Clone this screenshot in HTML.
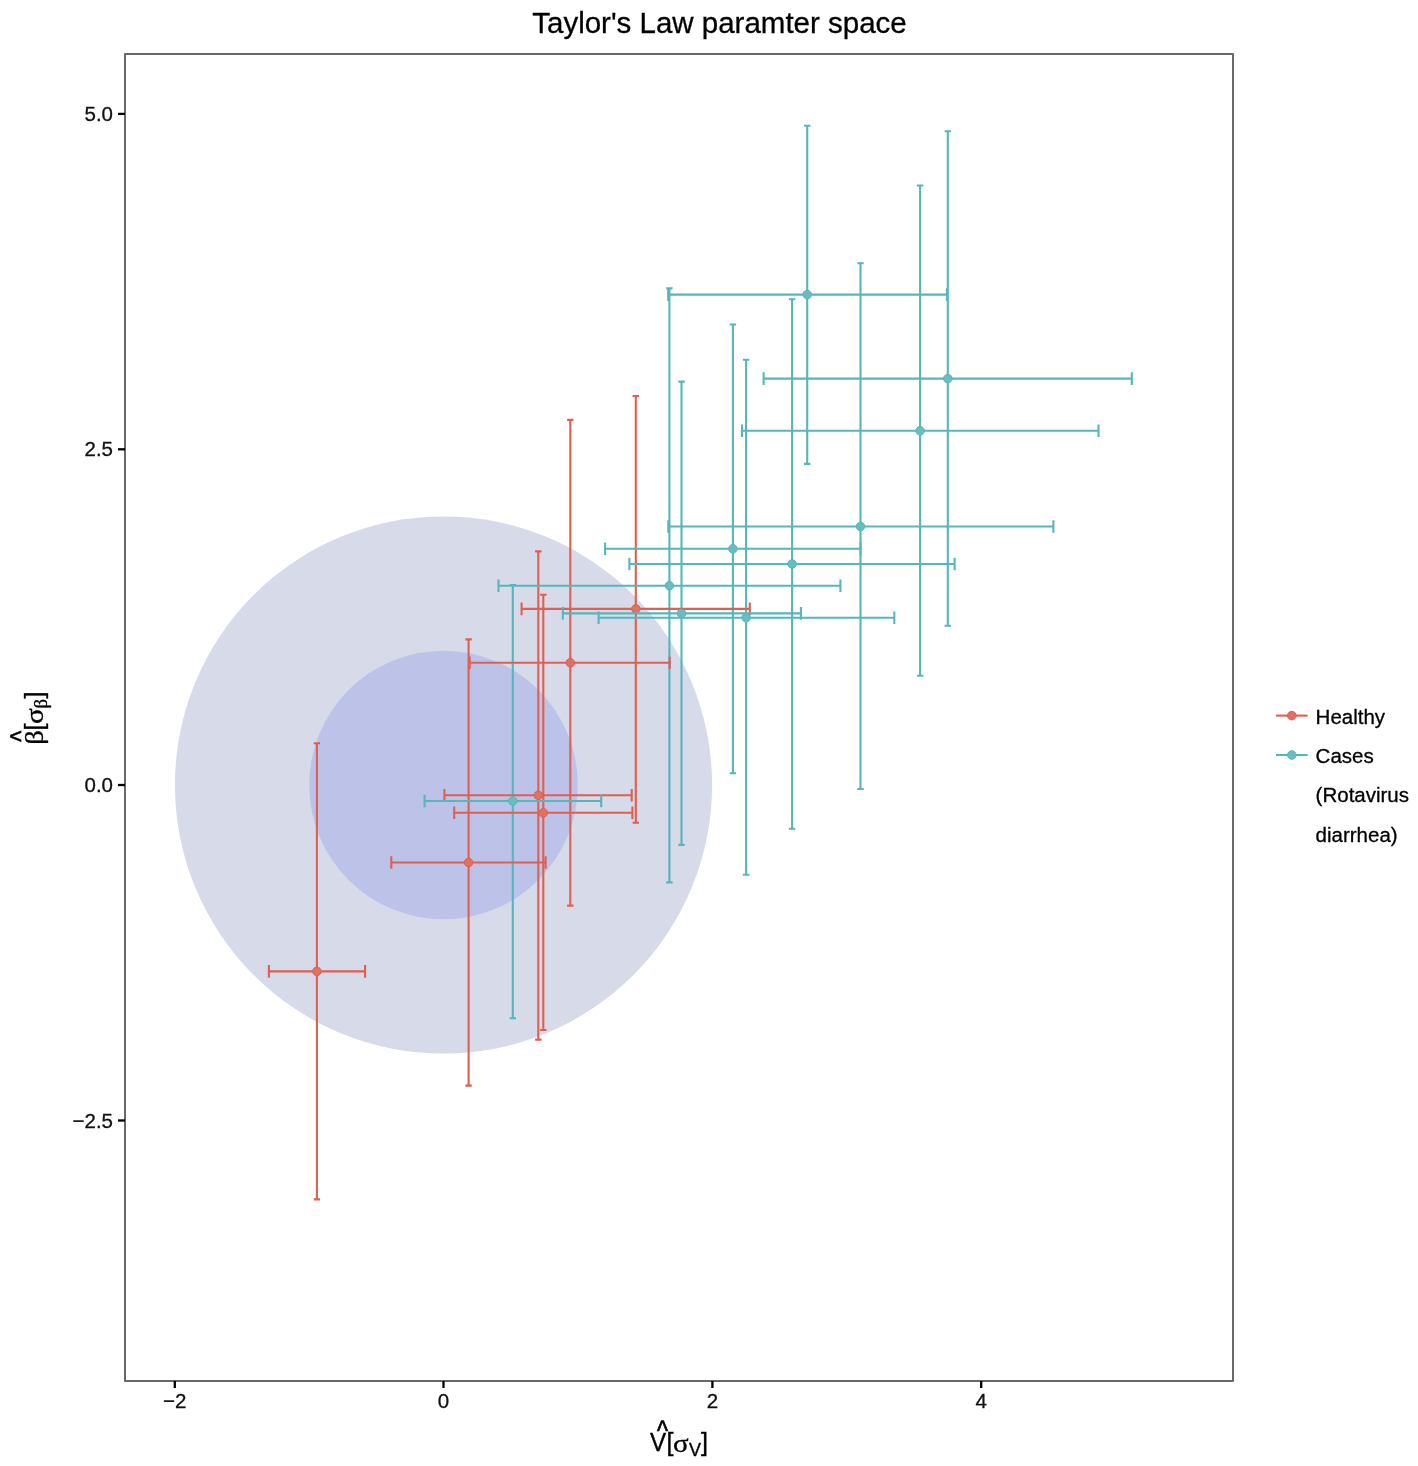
<!DOCTYPE html>
<html lang="en">
<head>
<meta charset="utf-8">
<title>Taylor's Law paramter space</title>
<style>
html,body{margin:0;padding:0;background:#fff;}
body{width:1418px;height:1466px;overflow:hidden;}
svg{display:block;font-family:"Liberation Sans",Arial,Helvetica,sans-serif;}
.ax text{font-size:20.5px;fill:#111;stroke:#111;stroke-width:0.3px;}
.lg text{font-size:20.5px;fill:#000;stroke:#000;stroke-width:0.3px;}
.gr{font-family:"Liberation Serif","Times New Roman",serif;}
</style>
</head>
<body>
<svg width="1418" height="1466" viewBox="0 0 1418 1466">
<rect width="1418" height="1466" fill="#ffffff"/>
<text x="719.5" y="32.9" text-anchor="middle" font-size="29.5" fill="#000" stroke="#000" stroke-width="0.3">Taylor's Law paramter space</text>
<circle cx="443.5" cy="785" r="268.6" fill="#D7DAE9"/>
<circle cx="443.5" cy="785" r="134.3" fill="#BDC3E8"/>
<g fill="none" stroke-width="2.1" stroke-linecap="butt">
<path d="M509.6 585.0H516.0M512.8 585.0V1018.2M509.6 1018.2H516.0" stroke="#56B6BB"/>
<path d="M666.2 288.4H672.6M669.4 288.4V882.4M666.2 882.4H672.6" stroke="#56B6BB"/>
<path d="M678.3 381.6H684.7M681.5 381.6V844.9M678.3 844.9H684.7" stroke="#56B6BB"/>
<path d="M729.7 324.5H736.1M732.9 324.5V773.2M729.7 773.2H736.1" stroke="#56B6BB"/>
<path d="M742.9 359.8H749.3M746.1 359.8V874.8M742.9 874.8H749.3" stroke="#56B6BB"/>
<path d="M788.9 299.2H795.3M792.1 299.2V828.8M788.9 828.8H795.3" stroke="#56B6BB"/>
<path d="M804.0 125.7H810.4M807.2 125.7V463.9M804.0 463.9H810.4" stroke="#56B6BB"/>
<path d="M857.3 263.3H863.7M860.5 263.3V789.0M857.3 789.0H863.7" stroke="#56B6BB"/>
<path d="M916.9 185.5H923.3M920.1 185.5V675.7M916.9 675.7H923.3" stroke="#56B6BB"/>
<path d="M944.6 131.3H951.0M947.8 131.3V625.8M944.6 625.8H951.0" stroke="#56B6BB"/>
<path d="M313.7 743.2H320.1M316.9 743.2V1199.4M313.7 1199.4H320.1" stroke="#DD6052"/>
<path d="M465.4 639.4H471.8M468.6 639.4V1085.6M465.4 1085.6H471.8" stroke="#DD6052"/>
<path d="M535.1 551.4H541.5M538.3 551.4V1039.6M535.1 1039.6H541.5" stroke="#DD6052"/>
<path d="M540.1 594.8H546.5M543.3 594.8V1030.0M540.1 1030.0H546.5" stroke="#DD6052"/>
<path d="M567.1 419.9H573.5M570.3 419.9V905.6M567.1 905.6H573.5" stroke="#DD6052"/>
<path d="M632.6 396.0H639.0M635.8 396.0V822.8M632.6 822.8H639.0" stroke="#DD6052"/>
<path d="M268.9 965.1V977.7M268.9 971.4H365.1M365.1 965.1V977.7" stroke="#DD6052"/>
<path d="M391.3 856.2V868.8M391.3 862.5H545.6M545.6 856.2V868.8" stroke="#DD6052"/>
<path d="M444.4 789.0V801.6M444.4 795.3H631.7M631.7 789.0V801.6" stroke="#DD6052"/>
<path d="M454.2 806.5V819.1M454.2 812.8H632.4M632.4 806.5V819.1" stroke="#DD6052"/>
<path d="M469.7 656.5V669.1M469.7 662.8H669.7M669.7 656.5V669.1" stroke="#DD6052"/>
<path d="M521.6 602.6V615.2M521.6 608.9H749.8M749.8 602.6V615.2" stroke="#DD6052"/>
</g>
<circle cx="316.9" cy="971.4" r="4.3" fill="#E17062" stroke="#DD6052" stroke-width="1"/>
<circle cx="468.6" cy="862.5" r="4.3" fill="#E17062" stroke="#DD6052" stroke-width="1"/>
<circle cx="538.3" cy="795.3" r="4.3" fill="#E17062" stroke="#DD6052" stroke-width="1"/>
<circle cx="543.3" cy="812.8" r="4.3" fill="#E17062" stroke="#DD6052" stroke-width="1"/>
<circle cx="570.3" cy="662.8" r="4.3" fill="#E17062" stroke="#DD6052" stroke-width="1"/>
<circle cx="635.8" cy="608.9" r="4.3" fill="#E17062" stroke="#DD6052" stroke-width="1"/>
<g fill="none" stroke-width="2.1" stroke-linecap="butt">
<path d="M424.6 794.7V807.3M424.6 801.0H601.2M601.2 794.7V807.3" stroke="#56B6BB"/>
<path d="M498.5 579.5V592.1M498.5 585.8H840.4M840.4 579.5V592.1" stroke="#56B6BB"/>
<path d="M562.8 607.1V619.7M562.8 613.4H800.9M800.9 607.1V619.7" stroke="#56B6BB"/>
<path d="M605.1 542.5V555.1M605.1 548.8H860.5M860.5 542.5V555.1" stroke="#56B6BB"/>
<path d="M598.6 611.4V624.0M598.6 617.7H894.3M894.3 611.4V624.0" stroke="#56B6BB"/>
<path d="M629.4 557.7V570.3M629.4 564.0H954.6M954.6 557.7V570.3" stroke="#56B6BB"/>
<path d="M668.2 288.3V300.9M668.2 294.6H946.9M946.9 288.3V300.9" stroke="#56B6BB"/>
<path d="M668.3 520.2V532.8M668.3 526.5H1053.4M1053.4 520.2V532.8" stroke="#56B6BB"/>
<path d="M742.0 424.5V437.1M742.0 430.8H1098.5M1098.5 424.5V437.1" stroke="#56B6BB"/>
<path d="M763.6 372.3V384.9M763.6 378.6H1131.8M1131.8 372.3V384.9" stroke="#56B6BB"/>
</g>
<circle cx="512.8" cy="801.0" r="4.3" fill="#6ABCC1" stroke="#56B6BB" stroke-width="1"/>
<circle cx="669.4" cy="585.8" r="4.3" fill="#6ABCC1" stroke="#56B6BB" stroke-width="1"/>
<circle cx="681.5" cy="613.4" r="4.3" fill="#6ABCC1" stroke="#56B6BB" stroke-width="1"/>
<circle cx="732.9" cy="548.8" r="4.3" fill="#6ABCC1" stroke="#56B6BB" stroke-width="1"/>
<circle cx="746.1" cy="617.7" r="4.3" fill="#6ABCC1" stroke="#56B6BB" stroke-width="1"/>
<circle cx="792.1" cy="564.0" r="4.3" fill="#6ABCC1" stroke="#56B6BB" stroke-width="1"/>
<circle cx="807.2" cy="294.6" r="4.3" fill="#6ABCC1" stroke="#56B6BB" stroke-width="1"/>
<circle cx="860.5" cy="526.5" r="4.3" fill="#6ABCC1" stroke="#56B6BB" stroke-width="1"/>
<circle cx="920.1" cy="430.8" r="4.3" fill="#6ABCC1" stroke="#56B6BB" stroke-width="1"/>
<circle cx="947.8" cy="378.6" r="4.3" fill="#6ABCC1" stroke="#56B6BB" stroke-width="1"/>
<rect x="125" y="54" width="1108" height="1327" fill="none" stroke="#686868" stroke-width="2" stroke-linejoin="round"/>
<g stroke="#000" stroke-width="2.3">
<line x1="174.8" y1="1381" x2="174.8" y2="1388"/>
<line x1="443.5" y1="1381" x2="443.5" y2="1388"/>
<line x1="712.4" y1="1381" x2="712.4" y2="1388"/>
<line x1="981.2" y1="1381" x2="981.2" y2="1388"/>
<line x1="118" y1="113.9" x2="125" y2="113.9"/>
<line x1="118" y1="449.3" x2="125" y2="449.3"/>
<line x1="118" y1="785.0" x2="125" y2="785.0"/>
<line x1="118" y1="1120.5" x2="125" y2="1120.5"/>
</g>
<g class="ax">
<text x="174.8" y="1408" text-anchor="middle">−2</text>
<text x="443.5" y="1408" text-anchor="middle">0</text>
<text x="712.4" y="1408" text-anchor="middle">2</text>
<text x="981.2" y="1408" text-anchor="middle">4</text>
<text x="113" y="121.0" text-anchor="end">5.0</text>
<text x="113" y="456.40000000000003" text-anchor="end">2.5</text>
<text x="113" y="792.1" text-anchor="end">0.0</text>
<text x="113" y="1127.6" text-anchor="end">−2.5</text>
</g>
<g fill="#000" font-size="25.2" stroke="#000" stroke-width="0.35">
<text transform="translate(650.1,1451) scale(0.96,1)">V</text>
<text transform="translate(657.0,1440.8) scale(0.96,1.24)" font-size="24.4" stroke-width="0.6">^</text>
<text x="666.4" y="1451">[</text>
<text class="gr" transform="translate(673.0,1451.6) scale(1.16,1)" font-size="25">σ</text>
<text x="688.9" y="1455.5" font-size="18">V</text>
<text x="701.0" y="1451">]</text>
</g>
<g fill="#000" font-size="25.2" stroke="#000" stroke-width="0.35" transform="translate(43.2,744.5) rotate(-90)">
<text class="gr" transform="translate(-0.2,0) scale(1.14,1)" font-size="25">β</text>
<text transform="translate(2.7,-12.7) scale(0.96,1.24)" font-size="24.4" stroke-width="0.6">^</text>
<text x="13.9" y="0">[</text>
<text class="gr" transform="translate(20.4,0) scale(1.17,1)" font-size="25">σ</text>
<text class="gr" x="35.9" y="3.6" font-size="18.6">β</text>
<text x="45.9" y="0">]</text>
</g>
<g class="lg">
<line x1="1276" y1="715.6" x2="1307.6" y2="715.6" stroke="#DD6052" stroke-width="2.1"/>
<circle cx="1291.8" cy="715.6" r="4.3" fill="#E17062" stroke="#DD6052" stroke-width="1"/>
<line x1="1276" y1="755" x2="1307.6" y2="755" stroke="#56B6BB" stroke-width="2.1"/>
<circle cx="1291.8" cy="755" r="4.3" fill="#6ABCC1" stroke="#56B6BB" stroke-width="1"/>
<text x="1315.6" y="723.6">Healthy</text>
<text x="1315.6" y="763.0">Cases</text>
<text x="1315.6" y="802.1">(Rotavirus</text>
<text x="1315.6" y="841.5">diarrhea)</text>
</g>
</svg>
</body>
</html>
